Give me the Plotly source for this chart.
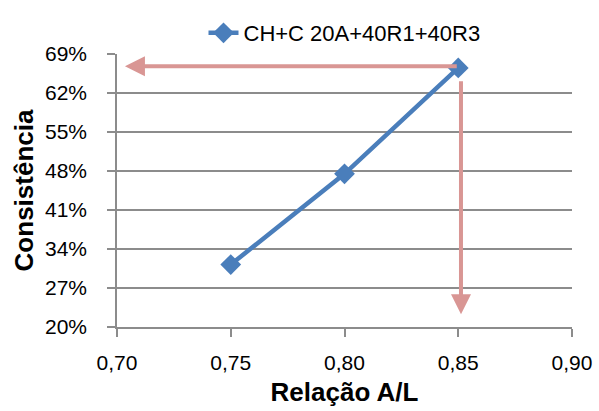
import plotly.graph_objects as go

# Data
relacao_al = [0.75, 0.80, 0.85]
consistencia = [31.2, 47.5, 66.5]
series_name = "CH+C 20A+40R1+40R3"
y_ticks = [20, 27, 34, 41, 48, 55, 62, 69]
y_tick_labels = ["20%", "27%", "34%", "41%", "48%", "55%", "62%", "69%"]
x_ticks = [0.70, 0.75, 0.80, 0.85, 0.90]
x_tick_labels = ["0,70", "0,75", "0,80", "0,85", "0,90"]

# Reading guide arrows (data coords)
h_arrow = dict(x_from=0.85, x_to=0.7035, y=66.8)
v_arrow = dict(x=0.8512, y_from=64.4, y_to=22.3)

blue = "#4A7EBB"
pink = "#D99694"
grey = "#8C8C8C"
fam = "Liberation Sans"

fig = go.Figure()
fig.add_trace(go.Scatter(
    x=relacao_al, y=consistencia, mode="lines+markers", name=series_name,
    line=dict(color=blue, width=4.5),
    marker=dict(symbol="diamond", size=16, color=blue),
))

for ann in [
    dict(x=h_arrow["x_to"], y=h_arrow["y"], ax=h_arrow["x_from"], ay=h_arrow["y"]),
    dict(x=v_arrow["x"], y=v_arrow["y_to"], ax=v_arrow["x"], ay=v_arrow["y_from"]),
]:
    fig.add_annotation(**ann, xref="x", yref="y", axref="x", ayref="y", text="",
                       showarrow=True, arrowhead=2, arrowsize=1.0, arrowwidth=4,
                       arrowcolor=pink)

tickfont = dict(family=fam, size=21, color="black")
titlefont = dict(family=fam, size=26, color="black")

fig.update_layout(
    width=599, height=411,
    margin=dict(l=117, r=27, t=52, b=84),
    paper_bgcolor="white", plot_bgcolor="white",
    font=dict(family=fam, size=21, color="black"),
    showlegend=True,
    legend=dict(orientation="h", x=0.5, xanchor="center", y=1.0, yanchor="bottom",
                font=dict(family=fam, size=22, color="black"), bgcolor="rgba(0,0,0,0)"),
    xaxis=dict(range=[0.70, 0.90], tickvals=x_ticks, ticktext=x_tick_labels,
               tickfont=tickfont, ticklabelstandoff=8, automargin=False,
               showgrid=False, showline=True, linecolor=grey, linewidth=1.5,
               ticks="outside", ticklen=8, tickcolor=grey, tickwidth=1.5,
               zeroline=False,
               title=dict(text="<b>Relação A/L</b>", font=titlefont, standoff=10)),
    yaxis=dict(range=[20, 69], tickvals=y_ticks, ticktext=y_tick_labels,
               tickfont=tickfont, ticklabelstandoff=16, automargin=False,
               showgrid=True, gridcolor=grey, gridwidth=1.5,
               showline=True, linecolor=grey, linewidth=1.5,
               ticks="outside", ticklen=8, tickcolor=grey, tickwidth=1.5,
               zeroline=False,
               title=dict(text="<b>Consistência</b>", font=titlefont, standoff=4)),
)

fig.write_html("out.html")
